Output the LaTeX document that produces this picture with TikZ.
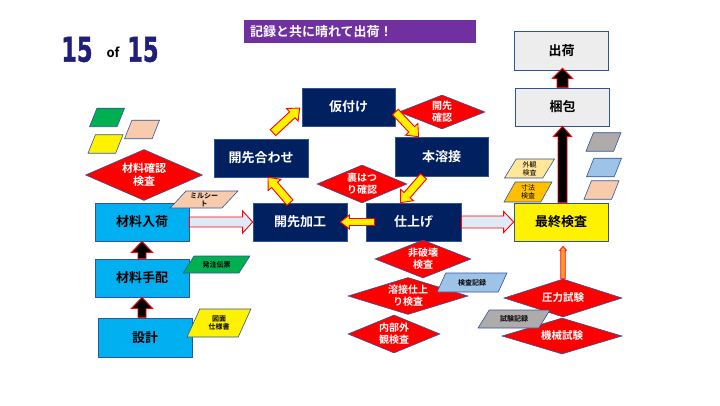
\documentclass[tikz,border=0pt]{standalone}
\usepackage{fontspec}
\setmainfont{Noto Sans CJK JP}[BoldFont={Noto Sans CJK JP Bold}]
\newfontfamily\numfont{DejaVu Sans}[BoldFeatures={FakeBold=1.5}]
\usetikzlibrary{calc,positioning,shapes.geometric}
\definecolor{navyc}{HTML}{002060}
\definecolor{edgec}{HTML}{2F5597}
\definecolor{cyanc}{HTML}{00B0F0}
\definecolor{grayc}{HTML}{EDEDED}
\definecolor{redc}{HTML}{FF0000}
\definecolor{purplec}{HTML}{7030A0}
\definecolor{greenc}{HTML}{00B050}
\definecolor{peachc}{HTML}{F8CBAD}
\definecolor{skyc}{HTML}{9DC3E6}
\definecolor{stonec}{HTML}{AFABAB}
\definecolor{creamc}{HTML}{FFE699}
\definecolor{amberc}{HTML}{FFC000}
\definecolor{paleb}{HTML}{DEEBF7}
\definecolor{orgc}{HTML}{FF9A2E}
\definecolor{numc}{HTML}{1F1F7A}
\tikzset{
  box/.style={draw=edgec,line width=0.7pt,minimum width=94pt,minimum height=38pt,inner sep=0pt,font=\bfseries\fontsize{13}{15}\selectfont},
  navyb/.style={box,fill=navyc,text=white},
  cyanb/.style={box,fill=cyanc},
  grayb/.style={box,fill=grayc},
  dia/.style={diamond,aspect=2.6,draw=edgec,line width=0.6pt,fill=redc,text=white,inner sep=0pt,align=center,font=\bfseries\fontsize{10}{12}\selectfont},
  para/.style={trapezium,trapezium left angle=#1,trapezium right angle=180-#1,trapezium stretches=true,draw=edgec,line width=0.6pt,inner sep=1pt,align=center,font=\bfseries\fontsize{7}{8}\selectfont},
  para/.default=65,
  blk/.style={fill=black,draw=redc,line width=0.9pt},
  ylw/.style={fill=yellow,draw=redc,line width=0.9pt},
  lbl/.style={fill=paleb,draw=redc,line width=0.9pt},
  org/.style={fill=orgc,draw=redc,line width=0.7pt}
}
% block arrow: [style]{shaft half}{head half}{head length}{from}{to}
\newcommand\blockar[6][]{%
  \coordinate (bm) at ($(#6)!#4!(#5)$);
  \draw[#1] ($(#5)!#2!-90:(#6)$) -- ($(bm)!#2!90:(#5)$) -- ($(bm)!#3!90:(#5)$) -- (#6)
    -- ($(bm)!#3!-90:(#5)$) -- ($(bm)!#2!-90:(#5)$) -- ($(#5)!#2!90:(#6)$) -- cycle;}

\begin{document}
\begin{tikzpicture}[x=1pt,y=1pt]
\useasboundingbox (0,0) rectangle (720,405);
% page counter
\foreach \nx/\nm in {77/na,143/nb}{
  \node[text=numc,font=\numfont\bfseries\fontsize{34}{34}\selectfont] (\nm) at (\nx,355.5) {\scalebox{0.66}[1]{15}};
}
\node[font=\bfseries\fontsize{13}{13}\selectfont] (of) at (113,353) {of};
\node[fill=purplec,text=white,minimum width=232pt,minimum height=23pt,text width=220pt,align=left,inner sep=0pt,font=\bfseries\fontsize{13}{15}\selectfont] (title) at (360,373.5) {記録と共に晴れて出荷！};

% boxes
\node[grayb,minimum height=39pt] (shukka) at (561.5,354.5) {出荷};
\node[grayb] (konpo) at (562.5,298) {梱包};
\node[box,fill=yellow] (saishu) at (561,183) {最終検査};
\node[navyb,minimum width=95pt] (shiage) at (413.5,183) {仕上げ};
\node[navyb] (kakou) at (300,183) {開先加工};
\node[navyb] (awase) at (261,247) {開先合わせ};
\node[navyb,minimum width=93pt] (karitsuke) at (348.5,298) {仮付け};
\node[navyb,minimum width=93pt,minimum height=39pt] (honyo) at (441.5,248.5) {本溶接};
\node[cyanb] (nyuka) at (142,183) {材料入荷};
\node[cyanb] (tehai) at (142,127) {材料手配};
\node[cyanb,minimum height=39pt] (sekkei) at (145,67.5) {設計};

% checks
\node[dia,minimum width=117pt,minimum height=51pt,font=\bfseries\fontsize{11}{13}\selectfont] (zkensa) at (144,230) {材料確認\\検査};
\node[dia,minimum width=86pt,minimum height=34pt] (kkakunin) at (442,293) {開先\\確認};
\node[dia,minimum width=90pt,minimum height=38pt] (urahatsuri) at (362,221) {裏はつ\\り確認};
\node[dia,minimum width=96pt,minimum height=38pt] (hihakai) at (423,146) {非破壊\\検査};
\node[dia,minimum width=120pt,minimum height=37pt] (yshiage) at (408,109) {溶接仕上\\り検査};
\node[dia,minimum width=92pt,minimum height=38pt] (naibu) at (394,71) {内部外\\観検査};
\node[dia,minimum width=118pt,minimum height=38pt,font=\bfseries\fontsize{10.5}{12}\selectfont] (atsu) at (563,107) {圧力試験};
\node[dia,minimum width=120pt,minimum height=36pt,font=\bfseries\fontsize{10.5}{12}\selectfont] (kikai) at (562,69) {機械試験};

% documents
\foreach \qx/\qy/\qc/\qn in {107/287.5/greenc/pa,142/275.5/peachc/pb,105.5/261/yellow/pc,603.5/263/stonec/pd,604/237.5/skyc/pe,601.5/215/peachc/pf}
  {\node[para=70,fill=\qc,minimum width=35pt,minimum height=18.5pt] (\qn) at (\qx,\qy) {};}
\node[para=50,fill=peachc,minimum width=68pt,minimum height=17pt] (mill) at (204,205.5) {ミルシー\\ト};
\node[para=50,fill=greenc,minimum width=67pt,minimum height=17pt] (hatchu) at (216.5,140.5) {発注伝票};
\node[para=65,fill=yellow,minimum width=64pt,minimum height=28pt] (zumen) at (219,82) {図面\\仕様書};
\node[para=60,fill=skyc,minimum width=70pt,minimum height=19pt] (kkiroku) at (472,122.5) {検査記録};
\node[para=52,fill=stonec,minimum width=72pt,minimum height=18pt] (skiroku) at (514,86) {試験記録};
\node[para=67,fill=creamc,minimum width=50pt,minimum height=19pt,font=\fontsize{7}{8}\selectfont] (gaikan) at (529.5,236.5) {外観\\検査};
\node[para=67,fill=amberc,minimum width=48pt,minimum height=20pt,font=\fontsize{7}{8}\selectfont] (sunpo) at (528,213) {寸法\\検査};

% flow arrows
\coordinate (b1s) at (sekkei.north -| tehai.south);
\blockar[blk]{4pt}{10.5pt}{11pt}{b1s}{tehai.south}
\blockar[blk]{4pt}{10.5pt}{11pt}{tehai.north}{nyuka.south}
\blockar[lbl]{5pt}{11pt}{10pt}{nyuka.east}{kakou.west}
\coordinate (y1s) at ($(kakou.north)+(-10,0)$);
\coordinate (y1e) at ($(awase.south)+(7,0)$);
\coordinate (y2s) at ($(awase.north)+(12,6)$);
\coordinate (y2e) at ($(karitsuke.west)+(-2,-1)$);
\coordinate (y3s) at ($(karitsuke.east)+(0,-5)$);
\coordinate (y3e) at ($(honyo.north)+(-23,0)$);
\coordinate (y4s) at ($(honyo.south)+(-18,0)$);
\coordinate (y4e) at ($(shiage.north)+(-13,0)$);
\coordinate (y5s) at ($(shiage.west)+(9,0)$);
\coordinate (y5e) at ($(kakou.east)+(-7,0)$);
\foreach \ya/\yb in {y1s/y1e,y2s/y2e,y3s/y3e,y4s/y4e}{\blockar[ylw]{4pt}{8.5pt}{10pt}{\ya}{\yb}}
\blockar[ylw]{3.5pt}{7pt}{9pt}{y5s}{y5e}
\blockar[lbl]{6pt}{10.5pt}{10pt}{shiage.east}{saishu.west}
\coordinate (o1) at (saishu.south -| atsu.north);
\coordinate (o1e) at ($(o1)+(0,-5)$);
\blockar[org]{2.2pt}{3.5pt}{4pt}{atsu.north}{o1e}
\coordinate (b4s) at (saishu.north -| konpo.south);
\blockar[blk]{4.5pt}{9pt}{10pt}{b4s}{konpo.south}
\coordinate (b5e) at ($(shukka.south)+(1,2)$);
\blockar[blk]{5.5pt}{10pt}{10pt}{konpo.north}{b5e}
\end{tikzpicture}
\end{document}
